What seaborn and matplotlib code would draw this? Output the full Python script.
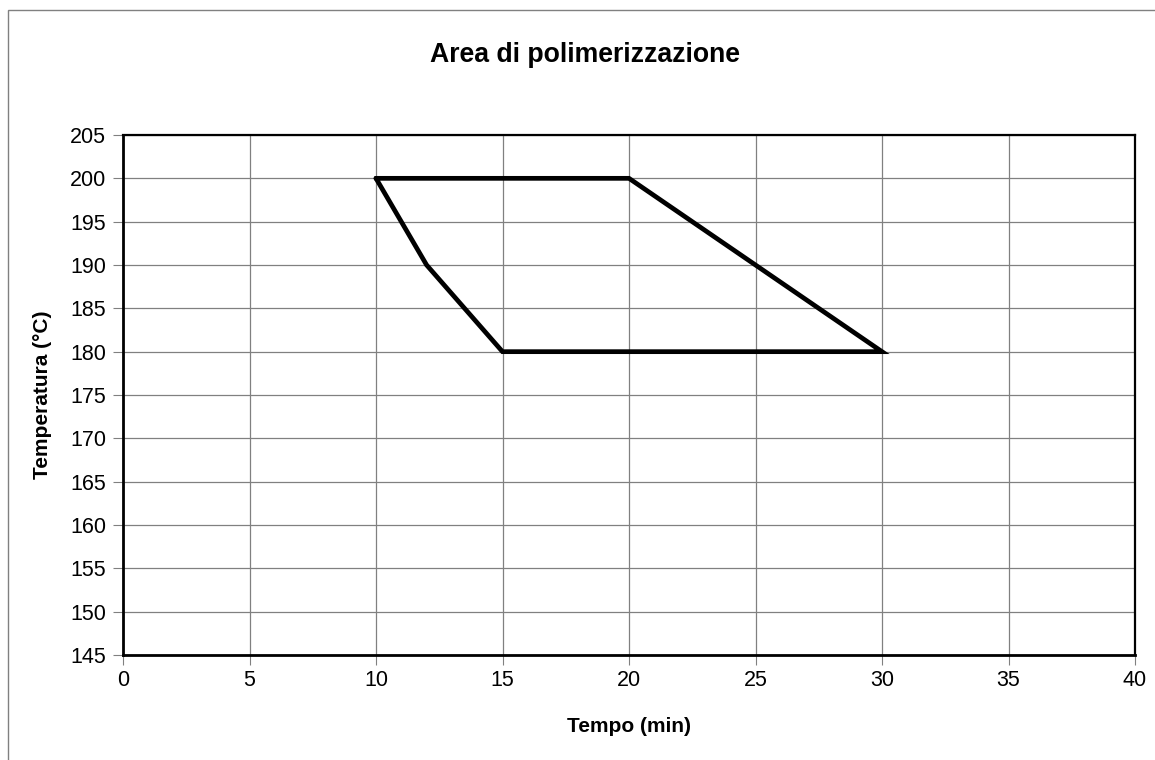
import matplotlib
matplotlib.use("Agg")
import matplotlib.pyplot as plt
import seaborn as sns
import pandas as pd
from matplotlib.patches import Rectangle

tempo = [10, 20, 30, 15, 12, 10]
temperatura = [200, 200, 180, 180, 190, 200]
x_ticks = [0, 5, 10, 15, 20, 25, 30, 35, 40]
y_ticks = [145, 150, 155, 160, 165, 170, 175, 180, 185, 190, 195, 200, 205]

sns.set_theme(style="white")
plt.rcParams['font.family'] = ['Liberation Sans', 'DejaVu Sans']
plt.rcParams['text.color'] = 'black'

df = pd.DataFrame({"Tempo": tempo, "Temperatura": temperatura})

W, H = 1155, 760
fig = plt.figure(figsize=(W / 100, H / 100), dpi=100)
fig.patch.set_facecolor("white")
fig.patches.append(Rectangle((8 / W, -0.5), 1.5, 1.5 - 10 / H, transform=fig.transFigure,
                             fill=False, edgecolor="#808080", linewidth=1.0))
ax = fig.add_axes([123 / W, 1 - 655 / H, (1135 - 123) / W, (655 - 135) / H])

sns.lineplot(data=df, x="Tempo", y="Temperatura", sort=False, estimator=None,
             color="black", linewidth=3.4, ax=ax)
for l in ax.lines:
    l.set_solid_joinstyle("miter")

ax.set_xlim(0, 40)
ax.set_ylim(145, 205)
ax.set_xticks(x_ticks)
ax.set_yticks(y_ticks)
ax.set_xticklabels([str(v) for v in x_ticks], fontsize=15.5)
ax.set_yticklabels([str(v) for v in y_ticks], fontsize=15.5)
ax.grid(True, color="#808080", linewidth=0.9)
ax.set_axisbelow(True)
ax.tick_params(axis="both", direction="out", length=7, width=0.8, color="#808080",
               labelcolor="black")
ax.tick_params(axis="x", pad=4)
ax.tick_params(axis="y", pad=5)
ax.tick_params(left=True, bottom=True)
for side in ["left", "bottom"]:
    ax.spines[side].set_color("black")
    ax.spines[side].set_linewidth(2.0)
for side in ["top", "right"]:
    ax.spines[side].set_color("black")
    ax.spines[side].set_linewidth(1.6)

ax.set_xlabel("Tempo (min)", fontsize=15, fontweight="bold", color="black", va="center")
ax.set_ylabel("Temperatura (°C)", fontsize=15, fontweight="bold", color="black", va="center")
ax.xaxis.set_label_coords(0.5, (655 - 727) / 520)
ax.yaxis.set_label_coords((43 - 123) / 1012, 0.5)
fig.text(585 / W, 1 - 55 / H, "Area di polimerizzazione", ha="center", va="center",
         fontsize=19.2, fontweight="bold", color="black")

fig.savefig("out.png", dpi=100, facecolor="white")
